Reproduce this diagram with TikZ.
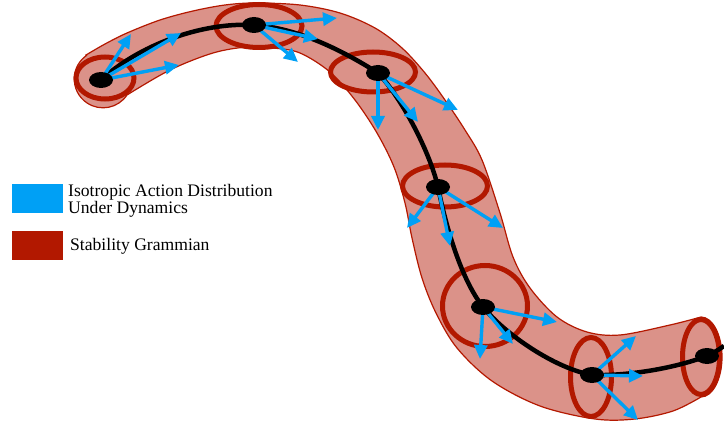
\documentclass[tikz,border=0pt]{standalone}
\usepackage{fontspec}
\setmainfont{Liberation Serif}
\usetikzlibrary{arrows.meta,shapes.geometric}
\definecolor{tubefill}{RGB}{219,146,137}
\definecolor{tubeline}{RGB}{180,24,0}
\definecolor{gram}{RGB}{178,24,0}
\definecolor{act}{RGB}{0,160,245}
\pgfdeclarelayer{back}
\pgfdeclarelayer{mid}
\pgfsetlayers{back,mid,main}
\begin{document}
\begin{tikzpicture}[x=1pt,y=-1pt,
  dot/.style={ellipse,fill=black,minimum width=24pt,minimum height=16pt,inner sep=0pt},
  gramm/.style={draw=gram,line width=5pt},
  actarrow/.style={draw=act,line width=3.4pt,-{Triangle[length=14pt,width=13pt]}},
  traj/.style={draw=black,line width=4.5pt},
  tube/.style={fill=tubefill,draw=tubeline,line width=1.2pt},
  legbox/.style={minimum width=51pt,minimum height=29pt,inner sep=0pt,anchor=north west},
  legtext/.style={font=\fontsize{17.6}{15.5}\selectfont,inner sep=0pt,align=left}]
\useasboundingbox (0,0) rectangle (724,425);

% trajectory nodes
\node[dot] (n1) at (101,80) {};
\node[dot] (n2) at (254,25) {};
\node[dot] (n3) at (378,73) {};
\node[dot] (n4) at (438,187) {};
\node[dot] (n5) at (483,307) {};
\node[dot] (n6) at (592,375) {};
\node[dot] (n7) at (707,356) {};
\coordinate (lineend) at (724,346);

% tube
\begin{pgfonlayer}{back}
\path[tube] plot[smooth,tension=0.55] coordinates {(86,55) (105,44) (127,33) (160,20) (193,11) (225,5) (255,3) (300,5) (340,13) (375,28) (402,48) (425,73) (445,100) (465,130) (482,160) (500,213) (513,257) (530,288) (557,317) (587,332) (620,335) (670,325) (701,317)}
  arc[start angle=-90,end angle=90,x radius=21,y radius=40]
  -- plot[smooth,tension=0.55] coordinates {(701,397) (673,411) (635,419) (595,419) (540,406) (492,381) (457,348) (436,313) (422,278) (412,238) (405,203) (394,167) (377,133) (355,100) (330,72) (300,53) (273,48) (247,47) (213,53) (170,70) (127,95)}
  arc[start angle=33.7,end angle=235,radius=28.8] -- cycle;
% stability grammian ellipses
\draw[gramm] (105,78) ellipse [x radius=29,y radius=21];
\draw[gramm] (259,26) ellipse [x radius=43,y radius=21.5];
\draw[gramm] (373,72) ellipse [x radius=42.5,y radius=20];
\draw[gramm] (445,186) ellipse [x radius=42.5,y radius=21];
\draw[gramm] (485,306) ellipse [x radius=42.5,y radius=40.5];
\draw[gramm] (591,377) ellipse [x radius=20.5,y radius=39.5];
\draw[gramm] (701,357) ellipse [x radius=18.5,y radius=37.5];
\end{pgfonlayer}

\begin{pgfonlayer}{mid}
\draw[traj] (n1.center) .. controls (138,46) and (200,22) .. (n2.center)
  .. controls (299,28) and (345,52) .. (n3.center)
  .. controls (400,96) and (429,149) .. (n4.center)
  .. controls (446,227) and (461,279) .. (n5.center)
  .. controls (505,334) and (554,368) .. (n6.center)
  .. controls (630,376) and (675,368) .. (n7.center)
  .. controls (715,352) .. (lineend);

\coordinate (a11) at (131,34);
\coordinate (a12) at (181,33);
\coordinate (a13) at (179,65);
\coordinate (a21) at (337,18);
\coordinate (a22) at (318,39);
\coordinate (a23) at (298,62);
\coordinate (a31) at (378,130);
\coordinate (a32) at (418,122);
\coordinate (a33) at (458,110);
\coordinate (a41) at (407,228);
\coordinate (a42) at (450,246);
\coordinate (a43) at (503,228);
\coordinate (a51) at (480,359);
\coordinate (a52) at (513,344);
\coordinate (a53) at (557,322);
\coordinate (a61) at (636,336);
\coordinate (a62) at (643,376);
\coordinate (a63) at (638,420);
\foreach \n in {1,...,6}{
  \foreach \k in {1,2,3}{
    \draw[actarrow] (n\n.center) -- (a\n\k);
  }
}
\end{pgfonlayer}

% legend
\node[legbox,fill=act] (legA) at (12,184) {};
\node[legbox,fill=gram] (legB) at (12,231) {};
\node[legtext,anchor=north west] (txtA) at (68,184) {Isotropic Action Distribution\\Under Dynamics};
\node[legtext,anchor=west] (txtB) at (70,246) {Stability Grammian};
\end{tikzpicture}
\end{document}
